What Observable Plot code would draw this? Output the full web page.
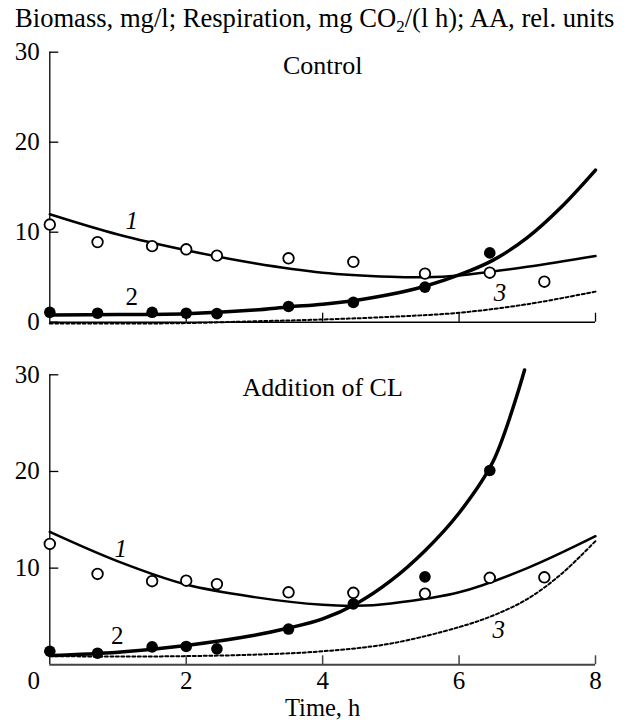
<!DOCTYPE html>
<html><head><meta charset="utf-8">
<script src="https://cdn.jsdelivr.net/npm/d3@7"></script>
<script src="https://cdn.jsdelivr.net/npm/@observablehq/plot@0.6"></script>
<style>
body{margin:0;background:#fff;width:627px;height:721px;overflow:hidden;font-family:"Liberation Serif",serif;color:#000}
#title{height:36px;line-height:36px;font-size:26.6px;padding-left:15px;white-space:nowrap}
#title sub{font-size:17px;vertical-align:-5px;line-height:0}
svg{display:block}
svg, svg text{font-family:"Liberation Serif",serif !important}
</style></head><body>
<div id="title">Biomass, mg/l; Respiration, mg CO<sub>2</sub>/(l h); AA, rel. units</div>
<div id="chart"></div>
<script>
// measurement times (h)
const sampleTimes = [0, 0.7, 1.5, 2.0, 2.45, 3.5, 4.45, 5.5, 6.45, 7.25];
// Control panel
const controlOpen   = [10.85, 8.9, 8.45, 8.1, 7.4, 7.1, 6.7, 5.4, 5.5, 4.5];
const controlFilled = [1.1, 1.0, 1.1, 1.0, 0.95, 1.75, 2.2, 3.9, 7.7];
const control1T = [0, 1, 2, 3, 4, 5, 5.5, 6, 7, 8];
const control1V = [12.0, 9.75, 8.0, 6.55, 5.5, 5.05, 5.0, 5.2, 6.15, 7.35];
const control2T = [0, 1, 2, 3, 3.5, 4, 4.5, 5, 5.5, 6, 6.5, 7, 7.5, 8];
const control2V = [0.8, 0.85, 0.95, 1.35, 1.7, 2.0, 2.45, 3.1, 4.0, 5.25, 6.9, 9.4, 12.8, 16.9];
const control3T = [0, 1, 2, 3, 4, 5, 6, 7, 8];
const control3V = [-0.15, -0.15, -0.1, 0.1, 0.3, 0.6, 1.05, 2.0, 3.4];
// Addition of CL panel
const clOpen   = [12.5, 9.4, 8.65, 8.7, 8.35, 7.5, 7.45, 7.35, 9.0, 9.05];
const clFilled = [1.4, 1.2, 1.85, 1.9, 1.65, 3.7, 6.3, 9.1, 20.1];
const cl1T = [0, 1, 2, 3, 4, 4.5, 5, 6, 7, 8];
const cl1V = [13.75, 10.7, 8.3, 7.0, 6.2, 6.1, 6.35, 7.5, 10.0, 13.3];
const cl2T = [0, 1, 2, 3, 3.5, 4, 4.5, 5, 5.5, 6, 6.5, 6.96];
const cl2V = [0.95, 1.3, 2.0, 3.05, 3.8, 4.75, 6.35, 8.7, 11.8, 15.7, 21.05, 30.5];
const cl3T = [0, 1, 2, 3, 4, 5, 6, 6.5, 7, 7.5, 8];
const cl3V = [0.9, 0.85, 0.9, 1.05, 1.4, 2.2, 3.9, 5.1, 6.8, 9.4, 12.8];
// curve number labels: text, time, value
const controlLabelText = ["1", "2", "3"];
const controlLabelT = [1.2, 1.2, 6.6];
const controlLabelV = [11.2, 2.75, 3.2];
const clLabelText = ["1", "2", "3"];
const clLabelT = [1.04, 0.99, 6.58];
const clLabelV = [11.95, 3.0, 3.55];
// axes
const xTicks = [2, 4, 6, 8];
const controlYTicks = [0, 10, 20, 30];
const clYTicks = [10, 20, 30];
const panelTitles = ["Control", "Addition of CL"];
const xAxisTitle = "Time, h";

const zip = (t, v) => t.slice(0, v.length).map((x, i) => ({t: x, v: v[i]}));
const FONT = "Liberation Serif";

function panel({height, marginTop, marginBottom, yTicks, title, open, filled, c1, c2, c3, labels, bottomAxis}) {
  const labelData = labels.text.map((s, i) => ({s, t: labels.t[i], v: labels.v[i]}));
  const marks = [
    Plot.line(c3, {x: "t", y: "v", curve: "catmull-rom", stroke: "#000", strokeWidth: 2, strokeDasharray: "3,2.5"}),
    Plot.line(c1, {x: "t", y: "v", curve: "catmull-rom", stroke: "#000", strokeWidth: 2.5}),
    Plot.line(c2, {x: "t", y: "v", curve: "catmull-rom", stroke: "#000", strokeWidth: 3.5}),
    Plot.ruleX([0], {stroke: "#000", strokeWidth: 1.3}),
    Plot.ruleY([0], {stroke: bottomAxis ? "#444" : "#000", strokeWidth: bottomAxis ? 2 : 1.5}),
    Plot.axisY(yTicks, {label: null, tickSize: -9, tickPadding: 19, fontSize: 25, fontFamily: FONT, stroke: "#000", strokeWidth: 1.3, fill: "#000"}),
    bottomAxis
      ? Plot.axisX(xTicks, {label: null, tickSize: -9, tickPadding: 15, fontSize: 25, fontFamily: FONT, stroke: "#444", strokeWidth: 1.5, fill: "#000"})
      : Plot.axisX(xTicks, {label: null, tickSize: -9, tickFormat: () => "", stroke: "#000", strokeWidth: 1.3}),
    Plot.dot(filled, {x: "t", y: "v", r: 5.8, fill: "#000", stroke: "none"}),
    Plot.dot(open, {x: "t", y: "v", r: 5.3, fill: "#fff", stroke: "#000", strokeWidth: 1.8}),
    Plot.text([title], {frameAnchor: "top", lineAnchor: "middle", dy: 13.3, fontSize: 26, fontFamily: FONT, fill: "#000"}),
    Plot.text(labelData.filter(d => d.s !== "2"), {x: "t", y: "v", text: "s", fontSize: 25, fontFamily: FONT, fontStyle: "italic", fill: "#000"}),
    Plot.text(labelData.filter(d => d.s === "2"), {x: "t", y: "v", text: "s", fontSize: 25, fontFamily: FONT, fill: "#000"})
  ];
  if (bottomAxis) {
    marks.push(Plot.axisX([0], {label: null, tickSize: 0, tickPadding: 6, dx: -16, fontSize: 25, fontFamily: FONT, fill: "#000"}));
    marks.push(Plot.text([xAxisTitle], {frameAnchor: "bottom", lineAnchor: "middle", dy: 43, fontSize: 24.5, fontFamily: FONT, fill: "#000"}));
  }
  return Plot.plot({
    width: 627, height, marginTop, marginBottom, marginLeft: 49.3, marginRight: 32,
    style: {fontFamily: FONT, fontSize: "25px", color: "#000", background: "#fff", overflow: "visible"},
    x: {domain: [0, 8], label: null},
    y: {domain: [0, 30], label: null},
    marks
  });
}

const topPanel = panel({
  height: 310, marginTop: 15.7, marginBottom: 24.3, yTicks: controlYTicks, title: panelTitles[0],
  open: zip(sampleTimes, controlOpen), filled: zip(sampleTimes, controlFilled),
  c1: zip(control1T, control1V), c2: zip(control2T, control2V), c3: zip(control3T, control3V),
  labels: {text: controlLabelText, t: controlLabelT, v: controlLabelV}, bottomAxis: false
});
const bottomPanel = panel({
  height: 375, marginTop: 28.3, marginBottom: 56.7, yTicks: clYTicks, title: panelTitles[1],
  open: zip(sampleTimes, clOpen), filled: zip(sampleTimes, clFilled),
  c1: zip(cl1T, cl1V), c2: zip(cl2T, cl2V), c3: zip(cl3T, cl3V),
  labels: {text: clLabelText, t: clLabelT, v: clLabelV}, bottomAxis: true
});
document.getElementById("chart").append(topPanel, bottomPanel);
</script>
</body></html>
